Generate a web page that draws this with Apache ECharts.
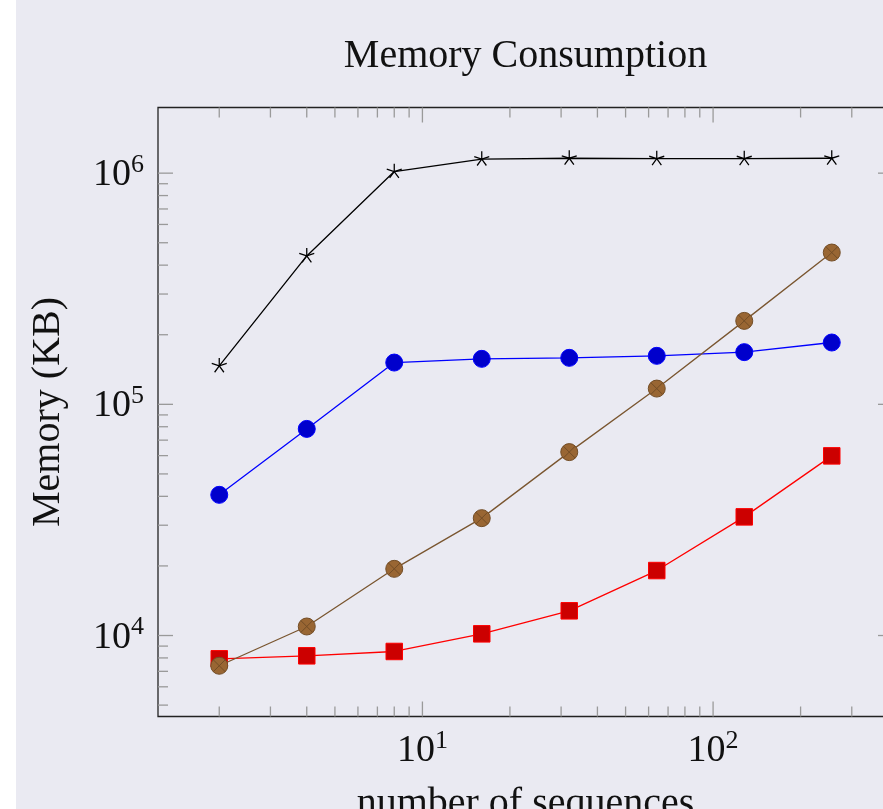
<!DOCTYPE html>
<html><head><meta charset="utf-8">
<script src="https://cdn.jsdelivr.net/npm/echarts@6/dist/echarts.min.js"></script>
<style>html,body{margin:0;padding:0;background:#fff}#c{width:883px;height:809px}</style>
</head><body><div id="c"></div>
<script>
// ---- data ----
const sequences = [2, 4, 8, 16, 32, 64, 128, 256];
const blueSeries  = [40600, 78300, 151600, 157300, 158900, 162100, 168200, 185100];
const redSeries   = [7930, 8170, 8530, 10170, 12790, 19100, 32600, 59850];
const brownSeries = [7400, 10940, 19430, 32190, 62130, 117000, 229600, 453500];
const blackSeries = [146700, 438500, 1016000, 1150000, 1160000, 1155000, 1155000, 1160000];
const xMajorTicks = [10, 100];
const xMinorTicks = [2, 3, 4, 5, 6, 7, 8, 9, 20, 30, 40, 50, 60, 70, 80, 90, 200, 300, 400];
const yMajorTicks = [1e4, 1e5, 1e6];
const yMinorTicks = [5000, 6000, 7000, 8000, 9000, 2e4, 3e4, 4e4, 5e4, 6e4, 7e4, 8e4, 9e4,
                     2e5, 3e5, 4e5, 5e5, 6e5, 7e5, 8e5, 9e5];
const titleText = 'Memory Consumption';
const xName = 'number of sequences';
const yName = 'Memory (KB)';

// ---- helpers ----
function logLimits(vals) {
  const lo = Math.log10(Math.min(...vals)), hi = Math.log10(Math.max(...vals));
  const pad = (hi - lo) * 0.1;
  return [Math.pow(10, lo - pad), Math.pow(10, hi + pad)];
}
const xLim = logLimits(sequences);
const yLim = logLimits([].concat(blueSeries, redSeries, brownSeries, blackSeries));
const pair = (xs, ys) => xs.map((x, i) => [x, ys[i]]);

const FONT = 'Liberation Serif';
const tickData = [];
xMajorTicks.forEach(v => tickData.push([v, yLim[0], 0, 1]));
xMinorTicks.forEach(v => tickData.push([v, yLim[0], 0, 0]));
yMajorTicks.forEach(v => tickData.push([xLim[0], v, 1, 1]));
yMinorTicks.forEach(v => tickData.push([xLim[0], v, 1, 0]));

function supLabel(v) {
  const e = Math.round(Math.log10(v));
  if (Math.abs(Math.pow(10, e) - v) / v > 1e-6) return '';
  return '{b|10}{s|' + e + '}';
}
const richSup = {
  b: { fontFamily: FONT, fontSize: 38, color: '#111', verticalAlign: 'bottom', lineHeight: 42 },
  s: { fontFamily: FONT, fontSize: 26, color: '#111', verticalAlign: 'top', lineHeight: 28 }
};

const STAR = 'path://M0,0 L0,-1 M0,0 L0.951,-0.309 M0,0 L0.588,0.809 M0,0 L-0.588,0.809 M0,0 L-0.951,-0.309 M0,1 L0,1';
const OTIMES = 'path://M-1,0 A1,1 0 1,1 1,0 A1,1 0 1,1 -1,0 Z M-0.707,-0.707 L0.707,0.707 M-0.707,0.707 L0.707,-0.707';

const chart = echarts.init(document.getElementById('c'), null, { renderer: 'canvas' });
chart.setOption({
  animation: false,
  backgroundColor: '#eaeaf2',
  graphic: [{ type: 'rect', left: 0, top: 0, shape: { width: 16, height: 809 }, style: { fill: '#ffffff' }, z: -10 }],
  title: {
    text: titleText, left: 525.5, top: 36, textAlign: 'center', padding: 0,
    textStyle: { fontFamily: FONT, fontSize: 40, fontWeight: 'normal', color: '#111' }
  },
  grid: { left: 158, top: 107.5, width: 735, height: 609, show: true, containLabel: false,
          outerBoundsMode: 'none',
          borderColor: '#222', borderWidth: 1.3, backgroundColor: 'transparent' },
  xAxis: {
    type: 'log', logBase: 10, min: xLim[0], max: xLim[1],
    name: xName, nameLocation: 'middle', nameGap: 68,
    nameTextStyle: { fontFamily: FONT, fontSize: 40, color: '#111' },
    axisLine: { show: false }, axisTick: { show: false }, splitLine: { show: false },
    axisLabel: { showMinLabel: false, showMaxLabel: false, margin: 12, formatter: supLabel, rich: richSup }
  },
  yAxis: {
    type: 'log', logBase: 10, min: yLim[0], max: yLim[1],
    name: yName, nameLocation: 'middle', nameGap: 90, nameRotate: 90,
    nameTextStyle: { fontFamily: FONT, fontSize: 40, color: '#111' },
    axisLine: { show: false }, axisTick: { show: false }, splitLine: { show: false },
    axisLabel: { showMinLabel: false, showMaxLabel: false, margin: 14, formatter: supLabel, rich: richSup }
  },
  series: [
    {
      type: 'custom', silent: true, z: 1, data: tickData,
      renderItem: function (params, api) {
        const cs = params.coordSys;
        const len = api.value(3) ? 15 : 10;
        const st = { stroke: '#9a9a9a', lineWidth: 1.3 };
        if (api.value(2) === 0) {
          const x = api.coord([api.value(0), yLim[0]])[0];
          return { type: 'group', children: [
            { type: 'line', shape: { x1: x, y1: cs.y + cs.height, x2: x, y2: cs.y + cs.height - len }, style: st },
            { type: 'line', shape: { x1: x, y1: cs.y, x2: x, y2: cs.y + len }, style: st }
          ] };
        } else {
          const y = api.coord([xLim[0], api.value(1)])[1];
          return { type: 'group', children: [
            { type: 'line', shape: { x1: cs.x, y1: y, x2: cs.x + len, y2: y }, style: st },
            { type: 'line', shape: { x1: cs.x + cs.width, y1: y, x2: cs.x + cs.width - len, y2: y }, style: st }
          ] };
        }
      }
    },
    {
      type: 'line', data: pair(sequences, blueSeries), z: 3,
      symbol: 'circle', symbolSize: 17,
      lineStyle: { color: '#0000ff', width: 1.3 },
      itemStyle: { color: '#0000cc', borderColor: '#0000ff', borderWidth: 1 }
    },
    {
      type: 'line', data: pair(sequences, redSeries), z: 4,
      symbol: 'rect', symbolSize: 16.5,
      lineStyle: { color: '#ff0000', width: 1.3 },
      itemStyle: { color: '#cc0000', borderColor: '#ff0000', borderWidth: 1 }
    },
    {
      type: 'line', data: pair(sequences, brownSeries), z: 5,
      symbol: OTIMES, symbolSize: 17,
      lineStyle: { color: '#7a5630', width: 1.3 },
      itemStyle: { color: '#996633', borderColor: '#734d26', borderWidth: 1 }
    },
    {
      type: 'line', data: pair(sequences, blackSeries), z: 6,
      symbol: STAR, symbolSize: [15, 15.8],
      lineStyle: { color: '#000000', width: 1.3 },
      itemStyle: { color: 'transparent', borderColor: '#000000', borderWidth: 1.3 }
    }
  ]
});
</script></body></html>
